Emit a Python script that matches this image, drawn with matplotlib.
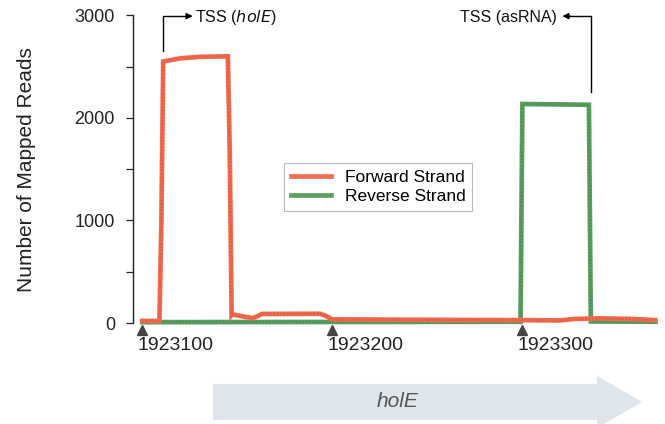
import numpy as np
import matplotlib.pyplot as plt
from matplotlib.patches import Polygon
from matplotlib.transforms import blended_transform_factory

plt.rcParams['font.family'] = ['Liberation Sans', 'DejaVu Sans']

# genome positions (bp) and read counts
fwd_pos = [1923100, 1923109, 1923110, 1923111, 1923120, 1923130, 1923145,
           1923146, 1923147, 1923147.2, 1923154, 1923158.3, 1923161, 1923163,
           1923193.5, 1923196.5, 1923199.8, 1923235.6, 1923262, 1923296.7,
           1923319.8, 1923327.7, 1923341, 1923356.7, 1923369.8]
fwd_reads = [20, 20, 945, 2550, 2580, 2595, 2600,
             1680, 80, 85, 60, 48, 70, 88,
             90, 70, 36, 32, 30, 28,
             25, 40, 45, 40, 28]

rev_pos = [1923100, 1923200, 1923299, 1923300, 1923335, 1923336, 1923370]
rev_reads = [8, 10, 12, 2135, 2128, 15, 12]

xtick_pos = [1923100, 1923200, 1923300]
xtick_labels = ['1923100', '1923200', '1923300']
gene_start, gene_end = 1923137.2, 1923363.0
tss_gene, tss_as = 1923110.9, 1923336.2

orange = '#f26c4f'
green = '#5c9f62'

fig = plt.figure(figsize=(6.65, 4.24), dpi=100)
ax = fig.add_axes([133 / 665, 101 / 424, 527 / 665, 307.7 / 424])

ax.plot(fwd_pos, fwd_reads, color=orange, lw=3.4, solid_joinstyle='miter',
        clip_on=False, label='Forward Strand', zorder=3)
ax.plot(fwd_pos, fwd_reads, color='#e0503a', lw=2.0, ls=(0, (0.6, 0.6)),
        clip_on=False, alpha=0.6, zorder=3)
ax.plot(rev_pos, rev_reads, color=green, lw=3.4, solid_joinstyle='miter',
        clip_on=False, label='Reverse Strand', zorder=2)
ax.plot(rev_pos, rev_reads, color='#3f8a48', lw=2.0, ls=(0, (0.6, 0.6)),
        clip_on=False, alpha=0.6, zorder=2)

ax.set_xlim(1923095.1, 1923372.4)
ax.set_ylim(0, 3000)

for s in ['top', 'right', 'bottom']:
    ax.spines[s].set_visible(False)
ax.spines['left'].set_linewidth(1.0)
ax.spines['left'].set_color('#222222')

ax.set_yticks([0, 1000, 2000, 3000])
ax.set_yticks([500, 1500, 2500], minor=True)
ax.tick_params(axis='y', which='both', direction='out', length=5, width=0.9,
               color='#222222', labelsize=13, pad=8, labelcolor='#222222')
ax.set_xticks([])
ax.set_ylabel('Number of Mapped Reads', fontsize=15, color='#222222', labelpad=28)

# triangle tick markers and labels below the baseline
ax.plot(xtick_pos, [-70] * len(xtick_pos), marker='^', ls='none', ms=7,
        color='#444444', clip_on=False)
for xp, lab in zip(xtick_pos, xtick_labels):
    ax.text(xp - 2.5, -215, lab, ha='left', va='center', fontsize=14,
            color='#222222', clip_on=False)

# TSS arrows
ax.plot([tss_gene, tss_gene, tss_gene + 13], [2651, 2992, 2992], color='black',
        lw=1.0, clip_on=False)
ax.annotate('', xy=(tss_gene + 15.6, 2992), xytext=(tss_gene + 12, 2992),
            arrowprops=dict(arrowstyle='-|>', color='black', lw=1.0,
                            mutation_scale=9, shrinkA=0, shrinkB=0),
            annotation_clip=False)
ax.text(tss_gene + 16.8, 2982, 'TSS ($\\it{holE}$)', ha='left', va='center',
        fontsize=11.5, color='#111111', clip_on=False)

ax.plot([tss_as, tss_as, tss_as - 11.5], [2251, 2992, 2992], color='black',
        lw=1.0, clip_on=False)
ax.annotate('', xy=(tss_as - 15.2, 2992), xytext=(tss_as - 11, 2992),
            arrowprops=dict(arrowstyle='-|>', color='black', lw=1.0,
                            mutation_scale=9, shrinkA=0, shrinkB=0),
            annotation_clip=False)
ax.text(tss_as - 17.9, 2982, 'TSS (asRNA)', ha='right', va='center',
        fontsize=11.5, color='#111111', clip_on=False)

# gene arrow for holE
trans = blended_transform_factory(ax.transData, ax.transAxes)
head_len = 23.7
body_top, body_bot = -0.198, -0.315
head_top, head_bot = -0.172, -0.341
arrow = Polygon([(gene_start, body_top), (gene_end - head_len, body_top),
                 (gene_end - head_len, head_top), (gene_end, (body_top + body_bot) / 2),
                 (gene_end - head_len, head_bot), (gene_end - head_len, body_bot),
                 (gene_start, body_bot)],
                closed=True, facecolor='#dfe6ec', edgecolor='none',
                transform=trans, clip_on=False)
ax.add_patch(arrow)
ax.text((gene_start + gene_end) / 2 - 16, -0.2565, 'holE', style='italic',
        fontsize=15, color='#555555', ha='center', va='center', transform=trans)

leg = ax.legend(loc='center', bbox_to_anchor=(0.465, 0.442), fontsize=12.5,
                frameon=True, fancybox=False, handlelength=2.3,
                borderpad=0.4, labelspacing=0.2, handletextpad=0.8)
leg.get_frame().set_edgecolor('#aaaaaa')
leg.get_frame().set_linewidth(0.8)
for h in leg.get_lines():
    h.set_linewidth(3.4)

plt.savefig('out.png', dpi=100)
